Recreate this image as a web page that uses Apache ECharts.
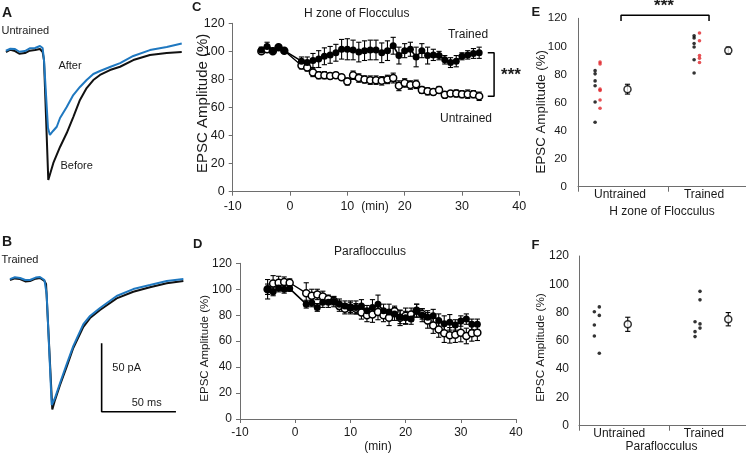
<!DOCTYPE html>
<html><head><meta charset="utf-8">
<script src="https://cdn.jsdelivr.net/npm/echarts@6/dist/echarts.min.js"></script>
<style>html,body{margin:0;padding:0;background:#fff}#c{width:746px;height:454px}</style>
</head><body><div id="c"></div>
<script>
// ---------------- DATA ----------------
const timeMin = [-5,-4,-3,-2,-1,2,3,4,5,6,7,8,9,10,11,12,13,14,15,16,17,18,19,20,21,22,23,24,25,26,27,28,29,30,31,32,33];
// Panel C: H zone of Flocculus
const cTrained = [101,103.5,100.5,103,100.5,93,92,93.5,94.5,96.5,97.5,99,101.5,101.5,101,99.5,100.5,101,101,99,100.5,104,97,100.5,101.5,96,100.5,97,97.5,97,94,92,93,96.5,97.5,98.5,99];
const cTrainedErr = [2,3,1.5,1.5,1,3,4,5,6,6,6,6,7,7.5,7,7,7,7,7,7,7,6,6,5,5,7,5,6,4,3,3,3.5,4,2.5,3,3.5,4];
const cUntrained = [100,101.5,100,103,100.5,90,88.5,85,83,83,82.5,83,81.5,78.5,83,81,80,79.5,79.5,79,80,81,75.5,77.5,76,76.5,72.5,71.5,71,72.5,69,70,70,69.5,69.5,69.5,68];
const cUntrainedErr = [1.5,1.5,1.5,1.5,1,2.5,2.5,3,2.5,2.5,2,2,2,2.5,3,3,2.5,3,3,3,3,3.5,3.5,3,3,3,2.5,2.5,2,2.5,2,2,2.5,2.5,3,2.5,3];
// Panel D: Paraflocculus
const dTrained = [100,98,101,100,100.5,88.5,89.5,86,90,90,90.5,88.5,87,86,86,87,83.5,86,88.5,83.5,82.5,81,78.5,78,77,83.5,80,78.5,79.5,76,73.5,74.5,72.5,75.5,77,73,73];
const dTrainedErr = [7.5,3,3,3,2,3,3,3,4,4,4,4,4,5,5,5,4,6,7,5,6,5,5,5,4,5,5,5,5,5,6,6,4,4,4,4,4];
const dUntrained = [100,104.5,105,105.5,105,97,95,96,94.5,92.5,91,87,85,86,85,82,80,80.5,82.5,80,78,83,78,79.5,80.5,83.5,81,76,72,69,66,64.5,65,66.5,64,66,66.5];
const dUntrainedErr = [4,6,5,4,3,8,5,4,4,3,3,4,4,4,4,5,5,6,6,5,6,4,6,6,5,5,4,6,6,6,7,6,6,7,6,6,6];
// Panel E: individual cells (black / red) and mean ± SEM
const groupLabels = ['Untrained','Trained'];
const eUntrainedBlack = [82.7,80.4,75.4,71.9,60.4,45.9];
const eUntrainedRed = [88.9,87.5,69.5,68.6,61.8,55.9];
const eTrainedBlack = [107.5,106,102,99.5,90.5,81];
const eTrainedRed = [109.5,104,93.5,91.5,88.5];
const eMean = [69.5,97];
const eSem = [3.5,2.5];
// Panel F
const fUntrainedA = [80.6,71.2,63.4];
const fUntrainedB = [84,78,51.2];
const fTrainedA = [73.5,66.5,63];
const fTrainedB = [95,89,72,69];
const fMean = [71.7,75.3];
const fSem = [5,4.7];
// Panel A/B traces: [time (ms), current (pA)]
const traceABefore = [[4.0,-0.2],[7,1.5],[10.1,0.5],[13,-1.5],[16.8,-1.0],[20,0.8],[23.6,1.2],[26.9,2.0],[28.7,-0.2],[29.6,-6.1],[32.5,-93.9],[35.9,-81.4],[40.4,-69.7],[44.9,-59.5],[49.3,-47.8],[53.8,-35.3],[58.3,-26.6],[62.8,-20.7],[67.3,-17.0],[74.0,-13.4],[80.8,-11.0],[89.7,-6.1],[100.9,-2.4],[112.2,-1.0],[122.3,-0.2]];
const traceAAfter = [[4.0,0.7],[7,2.2],[10.1,2.0],[13,0],[16.8,0.5],[20,2.5],[23.6,2.7],[26.9,4.2],[28.7,2.7],[29.6,-6.1],[32.3,-55.8],[33.6,-60.9],[35.7,-58.0],[38.2,-54.9],[40.4,-48.5],[44.9,-40.5],[49.3,-31.7],[53.8,-25.8],[58.3,-20.7],[62.8,-16.3],[67.3,-14.1],[74.0,-11.2],[80.8,-8.3],[89.7,-3.1],[100.9,1.2],[112.2,3.4],[122.3,6.0]];
const traceBBefore = [[6.7,0],[10,1.2],[13.5,0.7],[17,-1],[20.2,-0.7],[24,1],[26.9,1.5],[29.9,-0.7],[31.0,-2.9],[35.2,-94.6],[37.0,-87.8],[40.4,-76.8],[44.9,-63.4],[49.3,-49.7],[56.1,-34.2],[60.6,-27.8],[67.3,-21.9],[78.5,-13.4],[89.7,-8.6],[100.9,-5.3],[112.2,-2.4],[123.4,-0.7]];
const traceBAfter = [[6.7,0.7],[10,2],[13.5,1.5],[17,0],[20.2,0],[24,1.8],[26.9,2.2],[29.9,0],[31.4,-10.2],[34.8,-91.4],[37.0,-86.3],[40.4,-75.3],[44.9,-61.4],[49.3,-48.3],[56.1,-32.2],[60.6,-26.3],[67.3,-20.5],[78.5,-11.7],[89.7,-6.6],[100.9,-3.7],[112.2,-0.7],[123.4,0.7]];
const scaleBarMs = 50, scaleBarPa = 50;

// ---------------- CHART ----------------
const FF = '"Liberation Sans", Arial, sans-serif';
const AX = '#6e6e6e';
const TXT = '#1a1a1a';
const chart = echarts.init(document.getElementById('c'), null, {renderer:'canvas'});

function errRender(params, api){
  const x = api.value(0), y = api.value(1), e = api.value(2);
  const a = api.coord([x, y + e]), b = api.coord([x, y - e]);
  const w = 2.6, st = {stroke:'#000', lineWidth:1.1};
  return {type:'group', children:[
    {type:'line', shape:{x1:a[0],y1:a[1],x2:b[0],y2:b[1]}, style:st},
    {type:'line', shape:{x1:a[0]-w,y1:a[1],x2:a[0]+w,y2:a[1]}, style:st},
    {type:'line', shape:{x1:b[0]-w,y1:b[1],x2:b[0]+w,y2:b[1]}, style:st}
  ]};
}
const pair = (xs, ys) => xs.map((t,i)=>[t, ys[i]]);
const triple = (xs, ys, es) => xs.map((t,i)=>[t, ys[i], es[i]]);

function timeAxes(gi, labelSize, withName){
  const x = {gridIndex:gi, type:'value', min:-10, max:40, interval:10,
        axisLine:{show:true, onZero:false, lineStyle:{color:AX, width:1}},
        axisTick:{show:true, length:4, lineStyle:{color:AX}},
        axisLabel:{fontSize:labelSize, color:TXT, fontFamily:FF, margin:8},
        splitLine:{show:false}};
  if (withName) Object.assign(x, {name:'(min)', nameLocation:'middle', nameGap:22,
        nameTextStyle:{fontSize:12, color:TXT, fontFamily:FF}});
  return {
    x,
    y: {gridIndex:gi, type:'value', min:0, max:120, interval:20,
        axisLine:{show:true, onZero:false, lineStyle:{color:AX, width:1}},
        axisTick:{show:true, length:4, lineStyle:{color:AX}},
        axisLabel:{fontSize:labelSize, color:TXT, fontFamily:FF, margin:8},
        splitLine:{show:false}}
  };
}
function groupAxes(gi, maxX, labelSize, labelMargin){
  return {
    x: {gridIndex:gi, type:'value', min:0, max:maxX, interval:1,
        axisLine:{show:true, onZero:false, lineStyle:{color:AX, width:1}},
        axisTick:{show:true, length:5, lineStyle:{color:AX}},
        axisLabel:{show:false}, splitLine:{show:false}},
    y: {gridIndex:gi, type:'value', min:0, max:120, interval:20,
        axisLine:{show:true, onZero:false, lineStyle:{color:AX, width:1}},
        axisTick:{show:false},
        axisLabel:{fontSize:labelSize, color:TXT, fontFamily:FF, margin:labelMargin},
        splitLine:{show:false}}
  };
}
function labelAxes(gi, name, nameGap){
  return {
    x: {gridIndex:gi, type:'category', data:groupLabels, boundaryGap:true,
        axisLine:{show:false}, axisTick:{show:false},
        axisLabel:{fontSize:12, color:TXT, fontFamily:FF, margin:2},
        name:name, nameLocation:'middle', nameGap:nameGap,
        nameTextStyle:{fontSize:12, color:TXT, fontFamily:FF}},
    y: {gridIndex:gi, type:'value', show:false, min:0, max:1}
  };
}
const hiddenX = (gi,min,max)=>({gridIndex:gi, type:'value', show:false, min, max});
const hiddenY = (gi,min,max)=>({gridIndex:gi, type:'value', show:false, min, max});

const axC = timeAxes(2, 12.5, false), axD = timeAxes(3, 12, true);
const axE = groupAxes(4, 168/90, 11.5, 11), axF = groupAxes(5, 167/90.3, 12, 10);
const axEL = labelAxes(6, 'H zone of Flocculus', 19), axFL = labelAxes(7, 'Paraflocculus', 14);

const grids = [
  {left:0, top:30, width:190, height:170},
  {left:0, top:230, width:190, height:200},
  {left:232.7, top:23.3, width:286.6, height:168.4},
  {left:240, top:263.3, width:276, height:159.4},
  {left:578, top:18.3, width:168, height:168.4},
  {left:579, top:256, width:167, height:169.7},
  {left:578, top:18.3, width:174, height:168.4},
  {left:577, top:256, width:176, height:169.7}
];
const xAxes = [hiddenX(0,0,127.86), hiddenX(1,0,127.86), axC.x, axD.x, axE.x, axF.x, axEL.x, axFL.x];
const yAxes = [hiddenY(0,-108.5,15.9), hiddenY(1,-109.7,36.6), axC.y, axD.y, axE.y, axF.y, axEL.y, axFL.y];

const BLUE = '#1f78c0', BLACK = '#111', RED = '#e0252b';
const traceLine = (gi, data, color) => ({type:'line', xAxisIndex:gi, yAxisIndex:gi, data, showSymbol:false, symbol:'none', lineStyle:{color, width:2}, silent:true});
const openLine = (gi, data) => ({type:'line', xAxisIndex:gi, yAxisIndex:gi, data, symbol:'circle', symbolSize:7, lineStyle:{color:'#000', width:1.3}, itemStyle:{color:'#fff', borderColor:'#000', borderWidth:1.5}, z:3});
const filledLine = (gi, data) => ({type:'line', xAxisIndex:gi, yAxisIndex:gi, data, symbol:'circle', symbolSize:7, lineStyle:{color:'#000', width:1.6}, itemStyle:{color:'#000', borderColor:'#000', borderWidth:0}, z:4});
const errSeries = (gi, data, z) => ({type:'custom', xAxisIndex:gi, yAxisIndex:gi, data, renderItem:errRender, z:z||2, silent:true});
const dots = (gi, xpos, vals, color) => ({type:'scatter', xAxisIndex:gi, yAxisIndex:gi, data:vals.map(v=>[xpos,v]), symbol:'circle', symbolSize:3.6, itemStyle:{color}, z:3});
const meanSeries = (gi, xs, means) => ({type:'scatter', xAxisIndex:gi, yAxisIndex:gi, data:xs.map((x,i)=>[x,means[i]]), symbol:'circle', symbolSize:7, itemStyle:{color:'#fff', borderColor:'#000', borderWidth:1.5}, z:4});

const sbX = 68.4, sbY = -96.3;
const lastT = cTrained[cTrained.length-1], lastU = cUntrained[cUntrained.length-1];
const eMeanX = [0.55, 1.67], fMeanX = [0.54, 1.653];

const series = [
  traceLine(0, traceABefore, BLACK), traceLine(0, traceAAfter, BLUE),
  traceLine(1, traceBBefore, BLACK), traceLine(1, traceBAfter, BLUE),
  {type:'line', xAxisIndex:1, yAxisIndex:1, data:[[sbX, sbY+scaleBarPa],[sbX, sbY],[sbX+scaleBarMs, sbY]], showSymbol:false, symbol:'none', lineStyle:{color:'#000', width:1.6}, silent:true},
  // C
  errSeries(2, triple(timeMin, cUntrained, cUntrainedErr)),
  errSeries(2, triple(timeMin, cTrained, cTrainedErr)),
  openLine(2, pair(timeMin, cUntrained)),
  filledLine(2, pair(timeMin, cTrained)),
  {type:'line', xAxisIndex:2, yAxisIndex:2, data:[[34.5,lastT],[35.6,lastT],[35.6,lastU],[34.5,lastU]], showSymbol:false, symbol:'none', lineStyle:{color:'#000', width:1.5}, silent:true, clip:false},
  // D
  errSeries(3, triple(timeMin, dTrained, dTrainedErr)),
  errSeries(3, triple(timeMin, dUntrained, dUntrainedErr)),
  filledLine(3, pair(timeMin, dTrained)),
  openLine(3, pair(timeMin, dUntrained)),
  // E
  dots(4, 0.19, eUntrainedBlack, '#000'), dots(4, 0.245, eUntrainedRed, RED),
  dots(4, 1.29, eTrainedBlack, '#000'), dots(4, 1.35, eTrainedRed, RED),
  errSeries(4, eMeanX.map((x,i)=>[x, eMean[i], eSem[i]])),
  meanSeries(4, eMeanX, eMean),
  {type:'line', xAxisIndex:4, yAxisIndex:4, data:[[0.478,118],[0.478,122.2],[1.456,122.2],[1.456,118]], showSymbol:false, symbol:'none', lineStyle:{color:'#000', width:1.5}, silent:true, clip:false},
  // F
  dots(5, 0.17, fUntrainedA, '#000'), dots(5, 0.225, fUntrainedB, '#000'),
  dots(5, 1.285, fTrainedA, '#000'), dots(5, 1.34, fTrainedB, '#000'),
  errSeries(5, fMeanX.map((x,i)=>[x, fMean[i], fSem[i]])),
  meanSeries(5, fMeanX, fMean)
];

function T(x, y, text, o){
  o = o || {};
  return {type:'text', x, y, rotation:o.rot||0, silent:true, z:10,
    style:{text, fill:o.fill||TXT, fontSize:o.size||12, fontFamily:FF, fontWeight:o.weight||'normal',
      align:o.align||'center', verticalAlign:'middle'}};
}
const graphics = [
  T(2, 13.5, 'A', {size:14, weight:'bold', align:'left'}),
  T(1.5, 31, 'Untrained', {size:11, align:'left'}),
  T(70, 65.7, 'After', {size:11}),
  T(76.7, 166, 'Before', {size:11}),
  T(2, 242, 'B', {size:14, weight:'bold', align:'left'}),
  T(1.5, 260, 'Trained', {size:11, align:'left'}),
  T(126.7, 368.3, '50 pA', {size:11}),
  T(146.7, 402.7, '50 ms', {size:11}),
  T(192, 7, 'C', {size:13, weight:'bold', align:'left'}),
  T(356.7, 14, 'H zone of Flocculus'),
  T(375, 206.5, '(min)'),
  T(468, 34.3, 'Trained'),
  T(466, 118.3, 'Untrained'),
  T(511, 75, '***', {size:17, weight:'bold'}),
  T(202.7, 103.3, 'EPSC Amplitude (%)', {size:15, rot:Math.PI/2}),
  T(193, 244, 'D', {size:13, weight:'bold', align:'left'}),
  T(370, 251.7, 'Paraflocculus'),
  T(204.7, 348.3, 'EPSC Amplitude (%)', {size:11.5, rot:Math.PI/2}),
  T(531.5, 12.5, 'E', {size:13, weight:'bold', align:'left'}),
  T(664, 6, '***', {size:17, weight:'bold'}),
  T(541, 111.7, 'EPSC Amplitude (%)', {size:13.3, rot:Math.PI/2}),
  T(531.5, 245.3, 'F', {size:13, weight:'bold', align:'left'}),
  T(540.5, 347.5, 'EPSC Amplitude (%)', {size:11.7, rot:Math.PI/2})
];

chart.setOption({
  animation:false,
  backgroundColor:'#fff',
  textStyle:{fontFamily:FF},
  grid:grids, xAxis:xAxes, yAxis:yAxes, series, graphic:graphics
});
</script></body></html>
